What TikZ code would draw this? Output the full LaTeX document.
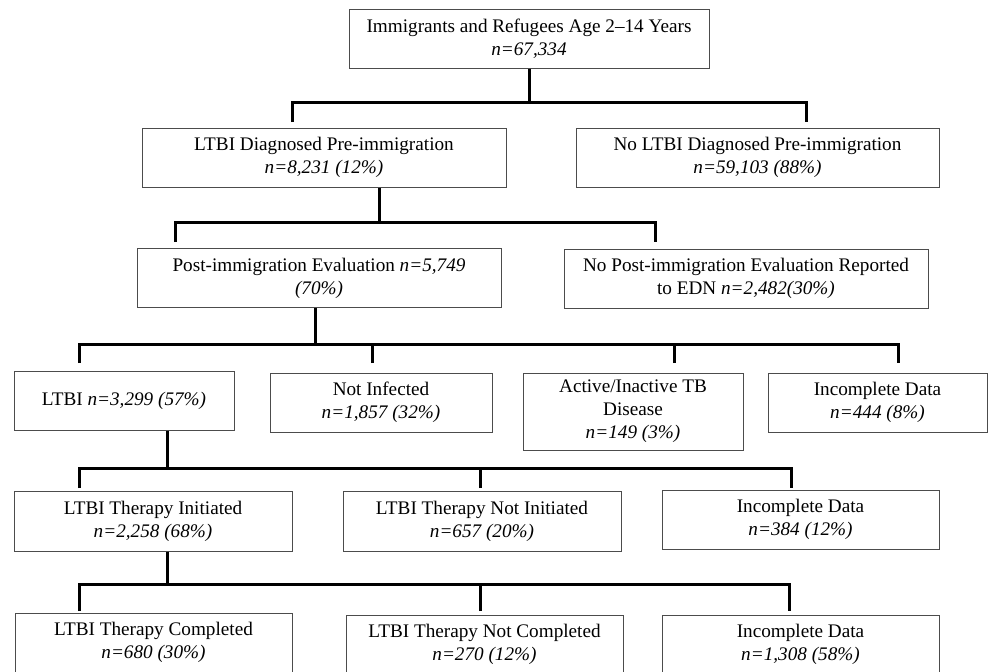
\documentclass[tikz,border=0pt]{standalone}
\usepackage{fontspec}
\setmainfont{Liberation Serif}
\usepackage{tikz}
\newcommand{\nval}[1]{\textit{n=#1}}
\tikzset{
  box/.style={draw=black!70, line width=0.5pt, align=center, inner sep=0pt,
    minimum height=29.5pt, font=\fontsize{9.6}{11.5}\selectfont},
  link/.style={line width=1.5pt}
}

\begin{document}
\begin{tikzpicture}[x=0.5pt,y=-0.5pt]
\useasboundingbox (0,0) rectangle (988,671);
\node[box, minimum width=180pt](top) at (529,38.5){Immigrants and Refugees Age 2--14 Years\\\nval{67,334}};
\node[box, minimum width=182pt](ltbipre) at (324,157.5){LTBI Diagnosed Pre-immigration\\\nval{8,231 (12\%)}};
\node[box, minimum width=181.5pt](noltbipre) at (757.5,157.5){No LTBI Diagnosed Pre-immigration\\\nval{59,103 (88\%)}};
\node[box, minimum width=182pt](posteval) at (319,278){Post-immigration Evaluation \nval{5,749}\\\textit{(70\%)}};
\node[box, minimum width=182pt](nopost) at (746,278.5){No Post-immigration Evaluation Reported\\to EDN \nval{2,482(30\%)}};
\node[box, minimum width=110pt](ltbi) at (124,400.5){LTBI \nval{3,299 (57\%)}};
\node[box, minimum width=111pt](notinf) at (381,402.5){Not Infected\\\nval{1,857 (32\%)}};
\node[box, minimum width=110pt, minimum height=38.5pt](active) at (633,411.5){Active/Inactive TB\\Disease\\\nval{149 (3\%)}};
\node[box, minimum width=109.5pt](incompa) at (877.5,402.5){Incomplete Data\\\nval{444 (8\%)}};
\node[box, minimum width=139pt, minimum height=30pt](init) at (153,521){LTBI Therapy Initiated\\\nval{2,258 (68\%)}};
\node[box, minimum width=139pt, minimum height=30pt](notinit) at (482,521){LTBI Therapy Not Initiated\\\nval{657 (20\%)}};
\node[box, minimum width=138.5pt](incompb) at (800.5,519.5){Incomplete Data\\\nval{384 (12\%)}};
\node[box, minimum width=138.5pt](done) at (153.5,642.5){LTBI Therapy Completed\\\nval{680 (30\%)}};
\node[box, minimum width=138.5pt](notdone) at (484.5,644.5){LTBI Therapy Not Completed\\\nval{270 (12\%)}};
\node[box, minimum width=138.5pt](incompc) at (800.5,644.5){Incomplete Data\\\nval{1,308 (58\%)}};

% junctions on the bars and free ends of the drops
\coordinate (j1) at (529,102);
\coordinate (d1a) at (292,122);
\coordinate (d1b) at (806,122);
\coordinate (j2) at (379,222);
\coordinate (d2a) at (175,242);
\coordinate (d2b) at (655,242);
\coordinate (j3) at (315,344);
\coordinate (d3a) at (79,363);
\coordinate (d3b) at (372,363);
\coordinate (d3c) at (674,363);
\coordinate (d3d) at (898,363);
\coordinate (j4) at (167,468);
\coordinate (d4a) at (79,488);
\coordinate (d4b) at (480,488);
\coordinate (d4c) at (791,488);
\coordinate (j5) at (167,584);
\coordinate (d5a) at (79,611);
\coordinate (d5b) at (480,611);
\coordinate (d5c) at (789,611);

\draw[link] (top.south -| j1) -- (j1);
\draw[link] (d1a) |- (j1) -| (d1b);
\draw[link] (ltbipre.south -| j2) -- (j2);
\draw[link] (d2a) |- (j2) -| (d2b);
\draw[link] (posteval.south -| j3) -- (j3);
\draw[link] (d3a) |- (j3) -| (d3d);
\draw[link] (d3b) -- (d3b |- j3);
\draw[link] (d3c) -- (d3c |- j3);
\draw[link] (ltbi.south -| j4) -- (j4);
\draw[link] (d4a) |- (j4) -| (d4c);
\draw[link] (d4b) -- (d4b |- j4);
\draw[link] (init.south -| j5) -- (j5);
\draw[link] (d5a) |- (j5) -| (d5c);
\draw[link] (d5b) -- (d5b |- j5);
\end{tikzpicture}
\end{document}
